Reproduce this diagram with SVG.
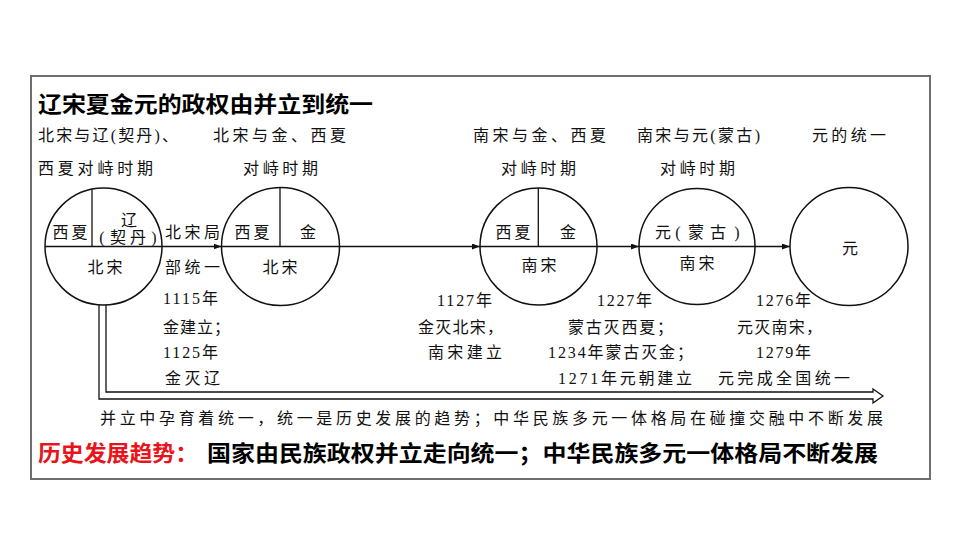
<svg xmlns="http://www.w3.org/2000/svg" width="960" height="540" viewBox="0 0 960 540">
<defs>
<style>
.t{font-family:"Liberation Serif","Noto Sans CJK SC",serif;font-size:16px;fill:#111;}
.m{text-anchor:middle;}
.b{font-family:"Noto Sans CJK SC",sans-serif;font-weight:bold;font-size:22px;fill:#000;}
.c{fill:#fff;stroke:#111;stroke-width:1.5;}
.l{stroke:#111;stroke-width:1.3;fill:none;}
</style>
<marker id="ah" markerWidth="8" markerHeight="6" refX="8" refY="3" orient="auto" markerUnits="userSpaceOnUse">
<path d="M0,0 L8,3 L0,6 Z" fill="#111"/>
</marker>
</defs>
<rect width="960" height="540" fill="#fff"/>
<rect x="31" y="76" width="899" height="403" fill="none" stroke="#6e6e6e" stroke-width="2"/>

<text class="b" x="38" y="112" font-size="23" textLength="335" lengthAdjust="spacingAndGlyphs">辽宋夏金元的政权由并立到统一</text>

<g id="labels">
<text class="t" x="38" y="141" textLength="140">北宋与辽(契丹)、</text>
<text class="t" x="38" y="174" textLength="115">西夏对峙时期</text>
<text class="t" x="213" y="141" textLength="133">北宋与金、西夏</text>
<text class="t" x="243" y="174" textLength="75">对峙时期</text>
<text class="t" x="473" y="141" textLength="133">南宋与金、西夏</text>
<text class="t" x="501" y="174" textLength="75">对峙时期</text>
<text class="t" x="637" y="141" textLength="123">南宋与元(蒙古)</text>
<text class="t" x="660" y="174" textLength="75">对峙时期</text>
<text class="t" x="812" y="141" textLength="74">元的统一</text>
</g>

<g id="connectors">
<line class="l" x1="162" y1="246.5" x2="221.5" y2="246.5" marker-end="url(#ah)"/>
<line class="l" x1="339.5" y1="246.5" x2="480" y2="246.5" marker-end="url(#ah)"/>
<line class="l" x1="597" y1="246.5" x2="639" y2="246.5" marker-end="url(#ah)"/>
<line class="l" x1="755" y1="246.5" x2="790" y2="246.5" marker-end="url(#ah)"/>
<path class="l" d="M99,304.8 V399 H873 V403 L883,396 L873,389 V392 H106 V304.5"/>
</g>

<g id="node-1">
<circle class="c" cx="103.5" cy="246.5" r="58.5"/>
<line class="l" x1="45" y1="246.5" x2="162" y2="246.5"/>
<line class="l" x1="92" y1="189.2" x2="92" y2="246.5"/>
<text class="t m" x="70" y="238" textLength="35">西夏</text>
<text class="t m" x="129" y="226" font-size="15">辽</text>
<text class="t m" x="102 118 138 154" y="243">(契丹)</text>
<text class="t m" x="105" y="273" textLength="35">北宋</text>
</g>

<g id="node-2">
<circle class="c" cx="280.5" cy="246.5" r="59"/>
<line class="l" x1="221.5" y1="246.5" x2="339.5" y2="246.5"/>
<line class="l" x1="280" y1="187.5" x2="280" y2="246.5"/>
<text class="t m" x="252" y="238" textLength="35">西夏</text>
<text class="t m" x="308" y="238">金</text>
<text class="t m" x="280" y="273" textLength="35">北宋</text>
</g>

<text class="t" x="165" y="238" textLength="55">北宋局</text>
<text class="t" x="165" y="273" textLength="55">部统一</text>
<text class="t" x="163" y="304" textLength="55">1115年</text>
<text class="t" x="163" y="333" textLength="67">金建立；</text>
<text class="t" x="163" y="358" textLength="55">1125年</text>
<text class="t" x="165" y="384" textLength="55">金灭辽</text>

<g id="node-3">
<circle class="c" cx="538.5" cy="246.5" r="58.5"/>
<line class="l" x1="480" y1="246.5" x2="597" y2="246.5"/>
<line class="l" x1="538.3" y1="188" x2="538.3" y2="246.5"/>
<text class="t m" x="513" y="238" textLength="35">西夏</text>
<text class="t m" x="568" y="238">金</text>
<text class="t m" x="539" y="271" textLength="35">南宋</text>
</g>

<g id="node-4">
<circle class="c" cx="697" cy="246.5" r="58"/>
<line class="l" x1="639" y1="246.5" x2="755" y2="246.5"/>
<text class="t m" x="663 678 696 718 737" y="238">元(蒙古)</text>
<text class="t m" x="697" y="269" textLength="35">南宋</text>
</g>

<g id="node-5">
<circle class="c" cx="849" cy="246.5" r="59"/>
<text class="t m" x="850" y="254">元</text>
</g>

<text class="t" x="437" y="306" textLength="55">1127年</text>
<text class="t" x="418" y="333" textLength="85">金灭北宋，</text>
<text class="t" x="428" y="358" textLength="74">南宋建立</text>
<text class="t" x="597" y="306" textLength="55">1227年</text>
<text class="t" x="568" y="333" textLength="105">蒙古灭西夏；</text>
<text class="t" x="548" y="358" textLength="145">1234年蒙古灭金；</text>
<text class="t" x="558" y="384" textLength="134">1271年元朝建立</text>
<text class="t" x="756" y="306" textLength="55">1276年</text>
<text class="t" x="737" y="333" textLength="85">元灭南宋，</text>
<text class="t" x="756" y="358" textLength="55">1279年</text>
<text class="t" x="718" y="384" textLength="132">元完成全国统一</text>

<text class="t" x="100" y="424" textLength="783">并立中孕育着统一，统一是历史发展的趋势；中华民族多元一体格局在碰撞交融中不断发展</text>

<text class="b" x="38" y="461" style="fill:#e8141b" textLength="160" lengthAdjust="spacingAndGlyphs">历史发展趋势：</text>
<text class="b" x="207" y="461" textLength="671" lengthAdjust="spacingAndGlyphs">国家由民族政权并立走向统一；中华民族多元一体格局不断发展</text>
</svg>
